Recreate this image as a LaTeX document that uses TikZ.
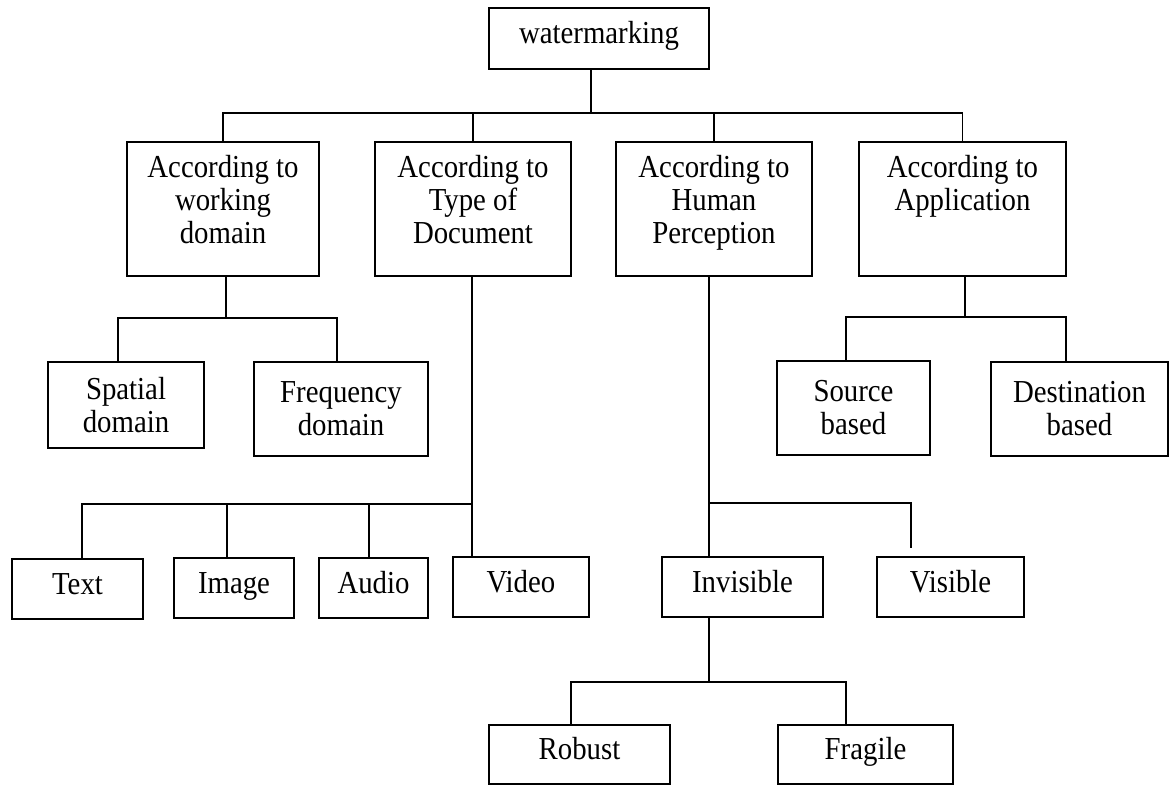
\documentclass[tikz,border=0pt]{standalone}
\usepackage{fontspec}
\setmainfont{Liberation Serif}[FakeStretch=0.9]
\newcommand\lowstrut{\rule[-20pt]{0pt}{0pt}}
\begin{document}
\begin{tikzpicture}[x=1pt,y=-1pt,
  box/.style={draw, line width=1.6pt, inner sep=0pt, align=center,
    font=\fontsize{32}{33}\selectfont},
  onebox/.style={box, text height=22pt, text depth=12pt},
  conn/.style={line width=1.6pt, line cap=rect}]
\fill[white] (0,0) rectangle (1171,785);
\useasboundingbox (0,0) rectangle (1171,785);

% root
\node[onebox, minimum width=220pt, minimum height=61pt] (wm) at (599,38.5) {watermarking};

% level 1
\node[box, minimum width=192pt, minimum height=134pt] (a1) at (223,209) {According to\\working\\domain\lowstrut};
\node[box, minimum width=196pt, minimum height=134pt] (a2) at (473,209) {According to\\Type of\\Document\lowstrut};
\node[box, minimum width=196pt, minimum height=134pt] (a3) at (714,209) {According to\\Human\\Perception\lowstrut};
\node[box, minimum width=207pt, minimum height=134pt] (a4) at (962.5,209) {According to\\Application\\\lowstrut};

% level 2 under a1
\node[box, minimum width=156pt, minimum height=86pt] (sp) at (126,405) {Spatial\\domain};
\node[box, minimum width=174pt, minimum height=94pt] (fr) at (341,409) {Frequency\\domain};

% level 2 under a4
\node[box, minimum width=153pt, minimum height=94pt] (src) at (853.5,408) {Source\\based};
\node[box, minimum width=177pt, minimum height=94pt] (dst) at (1079.5,409) {Destination\\based};

% level 2 under a2
\node[onebox, minimum width=131pt, minimum height=60pt] (txt) at (77.5,589) {Text};
\node[onebox, minimum width=120pt, minimum height=60pt] (img) at (234,588) {Image};
\node[onebox, minimum width=109pt, minimum height=60pt] (aud) at (373.5,588) {Audio};
\node[onebox, minimum width=136pt, minimum height=60pt] (vid) at (521,587) {Video};

% level 2 under a3
\node[onebox, minimum width=161pt, minimum height=60pt] (inv) at (742.5,587) {Invisible};
\node[onebox, minimum width=147pt, minimum height=60pt] (vis) at (950.5,587) {Visible};

% level 3 under invisible
\node[onebox, minimum width=181pt, minimum height=59pt] (rob) at (579.5,754.5) {Robust};
\node[onebox, minimum width=175pt, minimum height=59pt] (fra) at (865.5,754.5) {Fragile};

% bus coordinates
\coordinate (busT) at (0,113);
\coordinate (busA) at (0,318);
\coordinate (busD) at (0,317);
\coordinate (busB) at (0,504);
\coordinate (busC) at (0,503);
\coordinate (busE) at (0,682);

% root to level 1
\draw[conn] ([xshift=-8pt]wm.south) -- ([xshift=-8pt]wm.south |- busT);
\draw[conn] (a1.north |- busT) -- (a4.north |- busT);
\foreach \n in {a1,a2,a3,a4} \draw[conn] (\n.north) -- (\n.north |- busT);

% a1 subtree
\draw[conn] ([xshift=3pt]a1.south) -- ([xshift=3pt]a1.south |- busA);
\draw[conn] ([xshift=-8pt]sp.north |- busA) -- ([xshift=-4pt]fr.north |- busA);
\draw[conn] ([xshift=-8pt]sp.north) -- ([xshift=-8pt]sp.north |- busA);
\draw[conn] ([xshift=-4pt]fr.north) -- ([xshift=-4pt]fr.north |- busA);

% a4 subtree
\draw[conn] ([xshift=2.5pt]a4.south) -- ([xshift=2.5pt]a4.south |- busD);
\draw[conn] ([xshift=-7.5pt]src.north |- busD) -- ([xshift=-13.5pt]dst.north |- busD);
\draw[conn] ([xshift=-7.5pt]src.north) -- ([xshift=-7.5pt]src.north |- busD);
\draw[conn] ([xshift=-13.5pt]dst.north) -- ([xshift=-13.5pt]dst.north |- busD);

% a2 subtree
\draw[conn] ([xshift=-1pt]a2.south) -- ([xshift=-1pt]a2.south |- vid.north);
\draw[conn] ([xshift=4.5pt]txt.north |- busB) -- ([xshift=-1pt]a2.south |- busB);
\draw[conn] ([xshift=4.5pt]txt.north) -- ([xshift=4.5pt]txt.north |- busB);
\draw[conn] ([xshift=-7pt]img.north) -- ([xshift=-7pt]img.north |- busB);
\draw[conn] ([xshift=-4.5pt]aud.north) -- ([xshift=-4.5pt]aud.north |- busB);

% a3 subtree
\draw[conn] ([xshift=-5pt]a3.south) -- ([xshift=-5pt]a3.south |- inv.north);
\coordinate (visEnd) at ([xshift=-39.5pt,yshift=9pt]vis.north);
\draw[conn] ([xshift=-5pt]a3.south |- busC) -| (visEnd);

% invisible subtree
\draw[conn] ([xshift=-33.5pt]inv.south) -- ([xshift=-33.5pt]inv.south |- busE);
\draw[conn] ([xshift=-8.5pt]rob.north |- busE) -- ([xshift=-19.5pt]fra.north |- busE);
\draw[conn] ([xshift=-8.5pt]rob.north) -- ([xshift=-8.5pt]rob.north |- busE);
\draw[conn] ([xshift=-19.5pt]fra.north) -- ([xshift=-19.5pt]fra.north |- busE);
\end{tikzpicture}
\end{document}
